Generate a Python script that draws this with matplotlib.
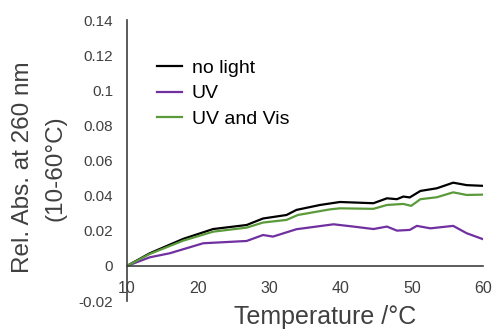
import matplotlib
matplotlib.use("Agg")
import matplotlib.pyplot as plt

plt.rcParams['font.family'] = ['Liberation Sans', 'DejaVu Sans']

# Datos
temp_negro = [10, 13.2, 17.9, 22.1, 26.8, 29.1, 32.4, 33.8, 37.1, 39.9, 44.6, 46.5, 47.9, 48.8, 49.7, 51.2, 53.5, 55.8, 57.7, 60]
no_light = [0, 0.0072, 0.0154, 0.021, 0.0233, 0.027, 0.029, 0.0319, 0.0347, 0.0364, 0.0357, 0.0385, 0.038, 0.0395, 0.039, 0.0427, 0.0442, 0.0474, 0.046, 0.0456]

temp_verde = [10, 13.2, 17.9, 22.1, 26.8, 29.1, 32.4, 34, 38.5, 39.9, 44.6, 46.5, 48.8, 49.9, 51.2, 53.5, 55.8, 57.7, 60]
uv_vis = [0, 0.0068, 0.0144, 0.0195, 0.0218, 0.0247, 0.0262, 0.029, 0.0322, 0.0328, 0.0325, 0.0347, 0.0353, 0.0342, 0.038, 0.0391, 0.0419, 0.0404, 0.0406]

temp_morado = [10, 13.2, 16, 20.7, 26.8, 29.1, 30.5, 33.8, 39, 41.8, 44.6, 46.5, 47.9, 49.7, 50.7, 52.6, 55.8, 57.7, 60]
uv = [0, 0.0049, 0.0072, 0.0129, 0.0142, 0.0176, 0.0167, 0.0209, 0.0237, 0.0224, 0.021, 0.0224, 0.0201, 0.0205, 0.0228, 0.0214, 0.0228, 0.0186, 0.0152]

fig = plt.figure(figsize=(4.96, 3.29), dpi=100)
ax = fig.add_axes([0.256, 0.085, 0.718, 0.854])

ax.plot(temp_negro, no_light, color="black", lw=1.6, label="no light")
ax.plot(temp_morado, uv, color="#7030A0", lw=1.6, label="UV")
ax.plot(temp_verde, uv_vis, color="#5B9A3B", lw=1.6, label="UV and Vis")

ax.set_xlim(10, 60)
ax.set_ylim(-0.02, 0.14)
ax.set_xticks([10, 20, 30, 40, 50, 60])
ax.set_yticks([-0.02, 0, 0.02, 0.04, 0.06, 0.08, 0.1, 0.12, 0.14])
ax.set_yticklabels(["-0.02", "0", "0.02", "0.04", "0.06", "0.08", "0.1", "0.12", "0.14"])

ax.spines['top'].set_visible(False)
ax.spines['right'].set_visible(False)
ax.spines['bottom'].set_position(('data', 0))
for s in ['left', 'bottom']:
    ax.spines[s].set_color("#404040")
    ax.spines[s].set_linewidth(1.2)

ax.tick_params(axis='x', length=0, pad=11, labelsize=11.5, colors="#404040")
ax.tick_params(axis='y', length=0, pad=10, labelsize=11, colors="#404040")

ax.set_xlabel("Temperature /°C", fontsize=18, color="#404040", va="top")
ax.xaxis.set_label_coords(0.556, -0.015)

# etiqueta del eje y en dos líneas
fig.text(23 / 496, 1 - 167 / 329, "Rel. Abs. at 260 nm", rotation=90, fontsize=17.5,
         color="#404040", ha="center", va="center")
fig.text(55 / 496, 1 - 168 / 329, "(10-60°C)", rotation=90, fontsize=17.5,
         color="#404040", ha="center", va="center")

ax.legend(loc="upper left", bbox_to_anchor=(0.084, 0.86), frameon=False,
          fontsize=14, handlelength=1.3, handletextpad=0.5, labelspacing=0.4,
          borderaxespad=0, borderpad=0)

fig.savefig("out.png", dpi=100)
